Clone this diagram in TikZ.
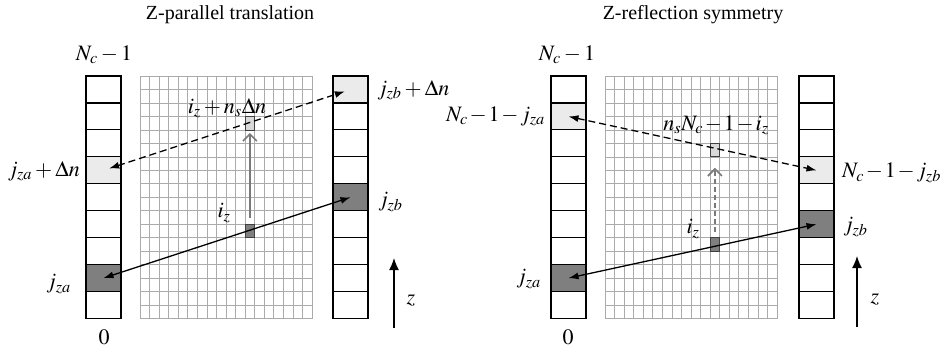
\documentclass[tikz,border=0pt]{standalone}
\usepackage{mathptmx}
\usepackage[no-math]{fontspec}
\setmainfont{Liberation Serif}
\usepackage{xcolor}
\definecolor{cellhot}{HTML}{7F7F7F}
\definecolor{celllit}{HTML}{EBEBEB}
\definecolor{sitelit}{HTML}{D9D9D9}
\definecolor{gridgray}{HTML}{ABABAB}
\definecolor{hopgray}{HTML}{7A7A7A}
\usepackage{tikz}
\usetikzlibrary{arrows.meta,positioning,calc}
\tikzset{
  >={Latex[length=10pt,width=7pt]},
  cell/.style   ={draw=black,line width=1.1pt,minimum width=35pt,
                  minimum height=26.94pt,inner sep=0pt,outer sep=0pt},
  site/.style   ={draw=black!75,line width=0.8pt,minimum width=9.56pt,
                  minimum height=13.47pt,inner sep=0pt,outer sep=0pt},
  gridline/.style={draw=gridgray,line width=0.6pt},
  lbl/.style    ={font=\fontsize{22}{26}\selectfont,inner sep=0pt},
  tight/.style  ={execute at begin node={\medmuskip=1.5mu plus 1mu}},
  ttl/.style    ={font=\fontsize{20}{24}\selectfont,inner sep=0pt},
  link/.style   ={<->,draw=black,line width=1.3pt},
  mirror/.style ={<->,draw=black,line width=1.3pt,
                  dash pattern=on 7pt off 4pt},
  hop/.style    ={-{Straight Barb[length=7pt,width=14pt,line width=1.6pt]},
                  draw=hopgray,line width=1.5pt},
  axis/.style   ={-{Latex[length=12pt,width=10pt]},draw=black,line width=1.4pt},
}

\begin{document}
\begin{tikzpicture}[x=1pt,y=-1pt]
\useasboundingbox (0,0) rectangle (940,354);
% --- left panel: Z-parallel translation
\node[ttl] (titleL) at (230,15) {Z-parallel translation};
\foreach \c in {0,...,18}
  \draw[gridline] (140+9.5556*\c,76) -- ++(0,242.5);
\foreach \r in {0,...,18}
  \draw[gridline] (140,76+13.472*\r) -- ++(172,0);
\foreach \k/\f in {0/white,1/cellhot,2/white,3/white,4/white,5/celllit,6/white,7/white,8/white}
  \node[cell,fill=\f] (la\k) at (103.5,318.5-26.94*\k-13.47) {};
\foreach \k/\f in {0/white,1/white,2/white,3/white,4/cellhot,5/white,6/white,7/white,8/celllit}
  \node[cell,fill=\f] (lb\k) at (350.5,318.5-26.94*\k-13.47) {};
\node[site,fill=cellhot] (lsite) at (249.9,230.9) {};
\node[site,fill=sitelit] (limage) at (249.9,123.2) {};
\draw[hop,shorten <=6pt,shorten >=3pt] (lsite) -- (limage);
\draw[link] (la1.center) -- (lb4.center);
\draw[mirror,shorten <=6pt,shorten >=6pt] (la5.center) -- (lb8.center);
\node[lbl] (topL) at (104,55) {$N_c-1$};
\node[lbl] (zeroL) at (104,337) {$0$};
\node[lbl,anchor=east] (jaL) at (71,284) {$j_{za}$};
\node[lbl,anchor=east] (jashL) at (80,171) {$j_{za}+\Delta n$};
\node[lbl,anchor=west] (jbL) at (378,202) {$j_{zb}$};
\node[lbl,anchor=west] (jbshL) at (377,90) {$j_{zb}+\Delta n$};
\node[lbl] (izL) at (224,213) {$i_z$};
\node[lbl] (izshL) at (227,108) {$i_z+n_s\Delta n$};
\coordinate (zfootL) at (394,328);
\coordinate (ztipL) at (394,258);
\draw[axis] (zfootL) -- (ztipL);
\node[lbl] (zL) at (411,301) {$z$};
% --- right panel: Z-reflection symmetry
\node[ttl] (titleR) at (693,15) {Z-reflection symmetry};
\foreach \c in {0,...,18}
  \draw[gridline] (605+9.5556*\c,76) -- ++(0,242.5);
\foreach \r in {0,...,18}
  \draw[gridline] (605,76+13.472*\r) -- ++(172,0);
\foreach \k/\f in {0/white,1/cellhot,2/white,3/white,4/white,5/white,6/white,7/celllit,8/white}
  \node[cell,fill=\f] (ra\k) at (568.5,318.5-26.94*\k-13.47) {};
\foreach \k/\f in {0/white,1/white,2/white,3/cellhot,4/white,5/celllit,6/white,7/white,8/white}
  \node[cell,fill=\f] (rb\k) at (816.5,318.5-26.94*\k-13.47) {};
\node[site,fill=cellhot] (rsite) at (714.9,244.4) {};
\node[site,fill=sitelit] (rimage) at (714.9,150.1) {};
\draw[hop,dash pattern=on 5pt off 3pt,shorten <=6pt,shorten >=11pt] (rsite) -- (rimage);
\draw[link] (ra1.center) -- (rb3.center);
\draw[mirror] (ra7.center) -- (rb5.center);
\node[lbl] (topR) at (567,55) {$N_c-1$};
\node[lbl] (zeroR) at (568,337) {$0$};
\node[lbl,anchor=east] (jaR) at (541,279) {$j_{za}$};
\node[lbl,tight,anchor=east] (jamR) at (545,116) {$N_c-1-j_{za}$};
\node[lbl,anchor=west] (jbR) at (843,227) {$j_{zb}$};
\node[lbl,tight,anchor=west] (jbmR) at (842,173) {$N_c-1-j_{zb}$};
\node[lbl] (izR) at (693,229) {$i_z$};
\node[lbl,tight] (izmR) at (716,125) {$n_sN_c-1-i_z$};
\coordinate (zfootR) at (857,327);
\coordinate (ztipR) at (857,256);
\draw[axis] (zfootR) -- (ztipR);
\node[lbl] (zR) at (875,300) {$z$};
\end{tikzpicture}
\end{document}
